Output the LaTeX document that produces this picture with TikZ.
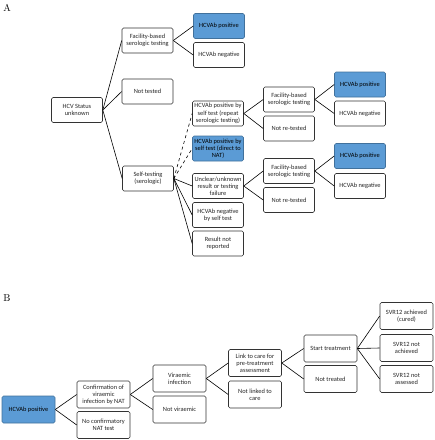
\documentclass[tikz,border=0pt]{standalone}
\usepackage{fontspec}
\usepackage{xcolor}
\usepackage{tikz}
\usetikzlibrary{positioning}
\newfontfamily\boxfont{Carlito}
\definecolor{boxblue}{HTML}{5B9BD5}
\definecolor{boxblueline}{HTML}{41719C}
\definecolor{boxline}{HTML}{333333}
\definecolor{boxtext}{HTML}{262626}

\begin{document}
\begin{tikzpicture}[
        x=1pt, y=-1pt,
        every node/.style={
            rectangle,
            draw=boxline,
            line width=0.6pt,
            fill=white,
            text=boxtext,
            align=center,
            rounded corners=1.5pt,
            minimum height=25pt,
            minimum width=51pt,
            inner sep=1pt,
            font=\boxfont\fontsize{6.4}{7.2}\selectfont
        },
        wide/.style={
            minimum width=53pt,
            minimum height=27pt
        },
        hit/.style={
            fill=boxblue,
            draw=boxblueline,
            text=black
        },
        branch/.style={
            line width=0.6pt,
            color=black
        },
        panel/.style={
            draw=none,
            fill=none,
            text=black,
            minimum height=0pt,
            minimum width=0pt,
            inner sep=0pt,
            font=\rmfamily\fontsize{10}{12}\selectfont
        }
    ]
        \useasboundingbox (0,0) rectangle (435,440);

        % Panel A
        \node[panel] (labA) at (7,8) {A};
        \node (hcv) at (77,110) {HCV Status\\unknown};

        \node (fac) at (147.5,40.5) {Facility-based\\serologic testing};
        \node (nottested) at (147.5,91.5) {Not tested};
        \node (self) at (148,178.5) {Self-testing\\(serologic)};

        \node[hit] (pos) at (219,26) {HCVAb positive};
        \node (neg) at (219,55) {HCVAb negative};

        \node (rep) at (218,113.5) {HCVAb positive by\\self test (repeat\\serologic testing)};
        \node[hit] (direct) at (218,148.5) {HCVAb positive by\\self test (direct to\\NAT)};
        \node (unclear) at (218,186) {Unclear/unknown\\result or testing\\failure};
        \node (negself) at (218,215) {HCVAb negative\\by self test};
        \node (notrep) at (218,243.5) {Result not\\reported};

        \node (facrep) at (289,99.5) {Facility-based\\serologic testing};
        \node (notrerep) at (289,128.5) {Not re-tested};
        \node (facunc) at (289,171) {Facility-based\\serologic testing};
        \node (notreunc) at (289,200) {Not re-tested};

        \node[hit] (posrep) at (360,84.5) {HCVAb positive};
        \node (negrep) at (360,113.5) {HCVAb negative};
        \node[hit] (posunc) at (360,156) {HCVAb positive};
        \node (negunc) at (360,186) {HCVAb negative};

        \draw[branch] (hcv.east) -- (fac.west);
        \draw[branch] (hcv.east) -- (nottested.west);
        \draw[branch] (hcv.east) -- (self.west);
        \draw[branch] (fac.east) -- (pos.west);
        \draw[branch] (fac.east) -- (neg.west);
        \draw[branch, dashed] (self.east) -- (rep.west);
        \draw[branch, dashed] (self.east) -- (direct.west);
        \draw[branch] (self.east) -- (unclear.west);
        \draw[branch] (self.east) -- (negself.west);
        \draw[branch] (self.east) -- (notrep.west);
        \draw[branch] (rep.east) -- (facrep.west);
        \draw[branch] (rep.east) -- (notrerep.west);
        \draw[branch] (unclear.east) -- (facunc.west);
        \draw[branch] (unclear.east) -- (notreunc.west);
        \draw[branch] (facrep.east) -- (posrep.west);
        \draw[branch] (facrep.east) -- (negrep.west);
        \draw[branch] (facunc.east) -- (posunc.west);
        \draw[branch] (facunc.east) -- (negunc.west);

        % Panel B
        \node[panel] (labB) at (7,298) {B};
        \node[wide, hit] (posB) at (28.5,409.5) {HCVAb positive};

        \node[wide] (conf) at (103.5,394.5) {Confirmation of\\viraemic\\infection by NAT};
        \node[wide] (noconf) at (103.5,425) {No confirmatory\\NAT test};
        \node[wide] (vir) at (179.5,378.5) {Viraemic\\infection};
        \node[wide] (notvir) at (179.5,409.5) {Not viraemic};
        \node[wide] (care) at (255,363) {Link to care for\\pre-treatment\\assessment};
        \node[wide] (notcare) at (255,394.5) {Not linked to\\care};
        \node[wide] (start) at (330.5,348.5) {Start treatment};
        \node[wide] (nottreated) at (330.5,379) {Not treated};
        \node[wide] (cured) at (406.5,316) {SVR12 achieved\\(cured)};
        \node[wide] (notach) at (406.5,348) {SVR12 not\\achieved};
        \node[wide] (notass) at (406.5,379) {SVR12 not\\assessed};

        \draw[branch] (posB.east) -- (conf.west);
        \draw[branch] (posB.east) -- (noconf.west);
        \draw[branch] (conf.east) -- (vir.west);
        \draw[branch] (conf.east) -- (notvir.west);
        \draw[branch] (vir.east) -- (care.west);
        \draw[branch] (vir.east) -- (notcare.west);
        \draw[branch] (care.east) -- (start.west);
        \draw[branch] (care.east) -- (nottreated.west);
        \draw[branch] (start.east) -- (cured.west);
        \draw[branch] (start.east) -- (notach.west);
        \draw[branch] (start.east) -- (notass.west);
    \end{tikzpicture}
\end{document}
